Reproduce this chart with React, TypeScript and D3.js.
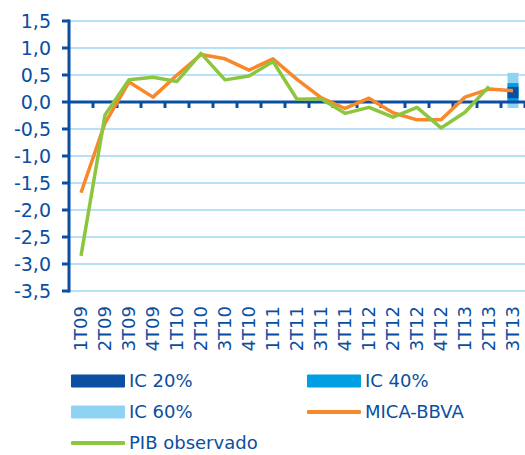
import React, { useEffect, useRef } from 'react';
import * as d3 from 'd3';

const quarters = ['1T09', '2T09', '3T09', '4T09', '1T10', '2T10', '3T10', '4T10', '1T11', '2T11', '3T11', '4T11', '1T12', '2T12', '3T12', '4T12', '1T13', '2T13', '3T13'];
const mica = [-1.68, -0.39, 0.37, 0.09, 0.5, 0.88, 0.8, 0.59, 0.8, 0.42, 0.08, -0.12, 0.07, -0.2, -0.33, -0.33, 0.09, 0.24, 0.21];
const pib = [-2.85, -0.24, 0.41, 0.46, 0.38, 0.9, 0.41, 0.48, 0.75, 0.05, 0.06, -0.21, -0.1, -0.28, -0.1, -0.48, -0.19, 0.29];
const yTicks = [1.5, 1.0, 0.5, 0, -0.5, -1.0, -1.5, -2.0, -2.5, -3.0, -3.5];
// confidence bands for the last quarter [low, high]
const bands = [
    { label: 'IC 60%', lo: -0.11, hi: 0.54, color: '#8fd3f3' },
    { label: 'IC 40%', lo: -0.02, hi: 0.35, color: '#009fe3' },
    { label: 'IC 20%', lo: 0.07, hi: 0.28, color: '#0b4ea2' },
];

const blue = '#0b4ea2';
const font = '"DejaVu Sans", sans-serif';

const Chart = () => {
    const svgRef = useRef(null);

    useEffect(() => {
        const svg = d3.select(svgRef.current);
        svg.selectAll('*').remove();

        const x = d3.scaleBand().domain(quarters).range([69, 525]);
        const y = d3.scaleLinear().domain([-3.5, 1.5]).range([291, 21]);

        // grid
        svg.append('g')
            .selectAll('line')
            .data(yTicks)
            .join('line')
            .attr('x1', 69).attr('x2', 525)
            .attr('y1', d => y(d)).attr('y2', d => y(d))
            .attr('stroke', '#b6e1f6')
            .attr('stroke-width', 2);

        // y axis
        svg.append('line')
            .attr('x1', 69).attr('x2', 69)
            .attr('y1', y(1.5) - 1.5).attr('y2', y(-3.5) + 1.5)
            .attr('stroke', blue).attr('stroke-width', 3);
        svg.append('g')
            .selectAll('line')
            .data(yTicks)
            .join('line')
            .attr('x1', 62).attr('x2', 69)
            .attr('y1', d => y(d)).attr('y2', d => y(d))
            .attr('stroke', blue).attr('stroke-width', 3);
        svg.append('g')
            .selectAll('text')
            .data(yTicks)
            .join('text')
            .attr('x', 51)
            .attr('y', d => y(d))
            .attr('dy', '0.36em')
            .attr('text-anchor', 'end')
            .attr('fill', blue)
            .style('font-family', font)
            .style('font-size', '19px')
            .text(d => d3.format('.1f')(d).replace('.', ',').replace('−', '-'));

        // confidence bands
        const bw = 11;
        svg.append('g')
            .selectAll('rect')
            .data(bands)
            .join('rect')
            .attr('x', x('3T13') + x.bandwidth() / 2 - bw / 2)
            .attr('width', bw)
            .attr('y', d => y(d.hi))
            .attr('height', d => y(d.lo) - y(d.hi))
            .attr('fill', d => d.color);

        // zero axis
        svg.append('line')
            .attr('x1', 69).attr('x2', 525)
            .attr('y1', y(0)).attr('y2', y(0))
            .attr('stroke', blue).attr('stroke-width', 3);
        svg.append('g')
            .selectAll('line')
            .data(quarters.slice(1).concat(['end']))
            .join('line')
            .attr('x1', (d, i) => 69 + (i + 1) * x.bandwidth())
            .attr('x2', (d, i) => 69 + (i + 1) * x.bandwidth())
            .attr('y1', y(0)).attr('y2', y(0) + 6)
            .attr('stroke', blue).attr('stroke-width', 3);

        const cx = d => x(d) + x.bandwidth() / 2;
        const line = d3.line().x(d => cx(d[0])).y(d => y(d[1]));

        svg.append('path')
            .datum(quarters.map((q, i) => [q, mica[i]]))
            .attr('d', line)
            .attr('fill', 'none')
            .attr('stroke', '#f7892b')
            .attr('stroke-width', 3.5)
            .attr('stroke-linejoin', 'round');

        svg.append('path')
            .datum(pib.map((v, i) => [quarters[i], v]))
            .attr('d', line)
            .attr('fill', 'none')
            .attr('stroke', '#8cc63f')
            .attr('stroke-width', 3.5)
            .attr('stroke-linejoin', 'round');

        // x labels
        svg.append('g')
            .selectAll('text')
            .data(quarters)
            .join('text')
            .attr('transform', d => `translate(${cx(d)}, 306) rotate(-90)`)
            .attr('dy', '0.36em')
            .attr('text-anchor', 'end')
            .attr('fill', blue)
            .style('font-family', font)
            .style('font-size', '18px')
            .text(d => d);

        // legend
        const legend = [
            { label: 'IC 20%', color: '#0b4ea2', kind: 'box', col: 0, row: 0 },
            { label: 'IC 40%', color: '#009fe3', kind: 'box', col: 1, row: 0 },
            { label: 'IC 60%', color: '#8fd3f3', kind: 'box', col: 0, row: 1 },
            { label: 'MICA-BBVA', color: '#f7892b', kind: 'line', col: 1, row: 1 },
            { label: 'PIB observado', color: '#8cc63f', kind: 'line', col: 0, row: 2 },
        ];
        const lg = svg.append('g')
            .selectAll('g')
            .data(legend)
            .join('g')
            .attr('transform', d => `translate(${d.col ? 307 : 71}, ${381 + d.row * 31})`);
        lg.append('rect')
            .attr('x', 0)
            .attr('width', 54)
            .attr('y', d => d.kind === 'box' ? -6.5 : -2)
            .attr('height', d => d.kind === 'box' ? 13 : 4)
            .attr('rx', 1)
            .attr('fill', d => d.color);
        lg.append('text')
            .attr('x', 58)
            .attr('dy', '0.36em')
            .attr('fill', blue)
            .style('font-family', font)
            .style('font-size', '18px')
            .text(d => d.label);
    }, []);

    return <svg ref={svgRef} width={525} height={455} style={{ position: 'absolute', left: 0, top: 0 }}></svg>;
};

export default function App() {
    return <Chart />;
}
